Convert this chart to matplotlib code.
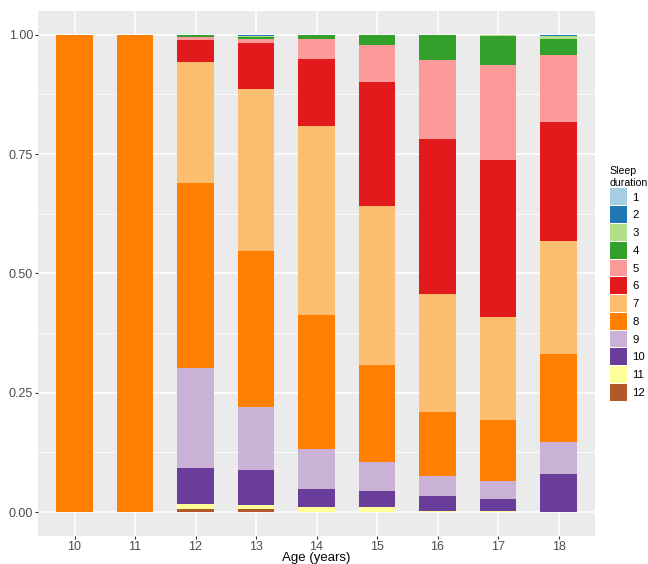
import numpy as np
import matplotlib
matplotlib.use('Agg')
import matplotlib.pyplot as plt
from matplotlib.patches import Patch

plt.rcParams['font.family'] = ['Liberation Sans', 'DejaVu Sans']

ages = [10, 11, 12, 13, 14, 15, 16, 17, 18]
durations = ['1', '2', '3', '4', '5', '6', '7', '8', '9', '10', '11', '12']
colors = ['#A6CEE3', '#1F78B4', '#B2DF8A', '#33A02C', '#FB9A99', '#E31A1C',
          '#FDBF6F', '#FF7F00', '#CAB2D6', '#6A3D9A', '#FFFF99', '#B15928']

# proportion of each sleep duration (1..12 h) per age
d1  = [0, 0, 0,     0,     0,     0,     0,     0,     0]
d2  = [0, 0, 0,     0.002, 0,     0,     0,     0,     0.003]
d3  = [0, 0, 0,     0.002, 0,     0,     0,     0.002, 0.006]
d4  = [0, 0, 0.004, 0.004, 0.008, 0.021, 0.052, 0.062, 0.033]
d5  = [0, 0, 0.006, 0.009, 0.043, 0.078, 0.166, 0.198, 0.141]
d6  = [0, 0, 0.047, 0.096, 0.141, 0.259, 0.326, 0.330, 0.248]
d7  = [0, 0, 0.253, 0.340, 0.395, 0.334, 0.246, 0.214, 0.237]
d8  = [1, 1, 0.388, 0.327, 0.280, 0.203, 0.134, 0.128, 0.184]
d9  = [0, 0, 0.210, 0.132, 0.085, 0.060, 0.042, 0.039, 0.068]
d10 = [0, 0, 0.075, 0.073, 0.038, 0.035, 0.031, 0.024, 0.080]
d11 = [0, 0, 0.010, 0.009, 0.010, 0.010, 0.003, 0.003, 0]
d12 = [0, 0, 0.007, 0.006, 0,     0,     0,     0,     0]
series = [d1, d2, d3, d4, d5, d6, d7, d8, d9, d10, d11, d12]

fig = plt.figure(figsize=(6.48, 5.64), dpi=100)
ax = fig.add_axes([0.059, 0.0496, 0.859, 0.931])
ax.set_facecolor('#EBEBEB')
fig.patch.set_facecolor('white')

x = np.arange(len(ages))
bottom = np.zeros(len(ages))
# stack from 12 at the bottom up to 1 at the top
for vals, col in zip(series[::-1], colors[::-1]):
    v = np.array(vals, dtype=float)
    ax.bar(x, v, bottom=bottom, width=0.6, color=col, linewidth=0, zorder=3)
    bottom += v

ax.set_xlim(-0.6, len(ages) - 0.4)
ax.set_ylim(-0.05, 1.05)
ax.set_xticks(x)
ax.set_xticklabels([str(a) for a in ages])
ax.set_yticks([0, 0.25, 0.5, 0.75, 1.0])
ax.set_yticklabels(['0.00', '0.25', '0.50', '0.75', '1.00'])
ax.set_yticks([0.125, 0.375, 0.625, 0.875], minor=True)
ax.grid(which='major', color='white', linewidth=1.1, zorder=0)
ax.grid(which='minor', axis='y', color='white', linewidth=0.55, zorder=0)
ax.tick_params(which='major', length=2.5, color='#333333', labelcolor='#4D4D4D', labelsize=9, pad=1.2)
ax.tick_params(which='minor', length=0)
for s in ax.spines.values():
    s.set_visible(False)
ax.set_xlabel('Age (years)', fontsize=9.5, labelpad=-0.5)

handles = [Patch(facecolor=c, edgecolor='none') for c in colors]
leg = ax.legend(handles, durations, title='Sleep\nduration', loc='upper left',
                bbox_to_anchor=(1.012, 0.72), frameon=False, fontsize=8.2,
                title_fontsize=7.6, handlelength=1.55, handleheight=1.9,
                labelspacing=0.08, handletextpad=0.45, borderaxespad=0.3)
leg._legend_box.align = 'left'

fig.savefig('out.png', dpi=100)
